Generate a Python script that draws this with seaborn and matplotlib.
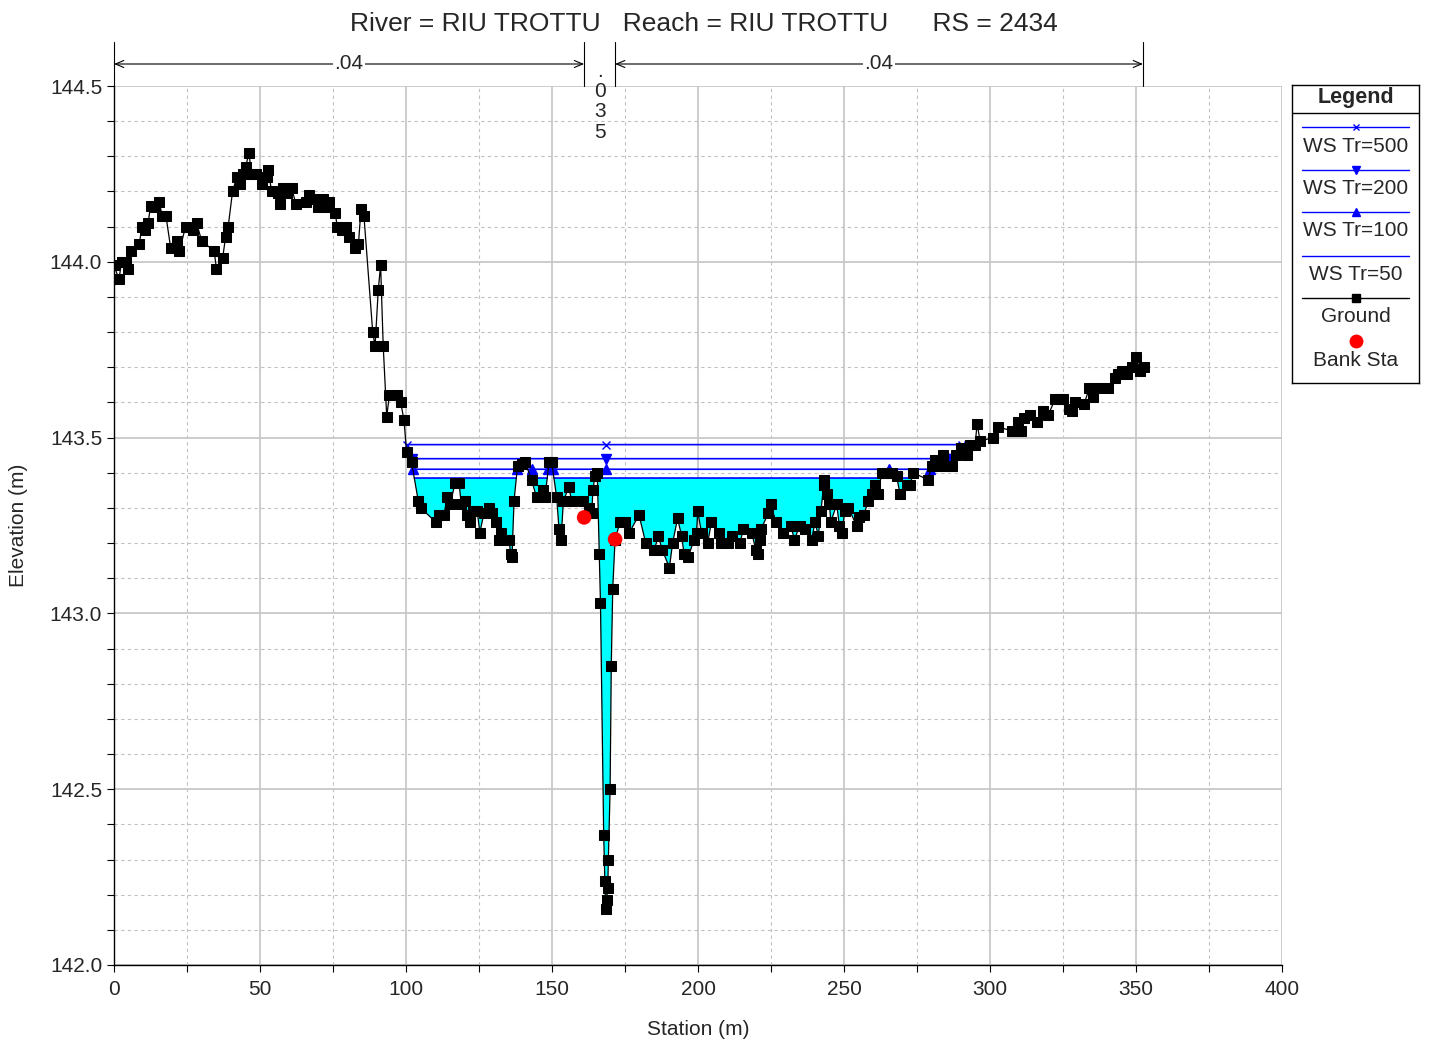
import numpy as np
import matplotlib
matplotlib.use("Agg")
import matplotlib.pyplot as plt
import matplotlib.transforms as mtransforms
from matplotlib.ticker import MultipleLocator, FormatStrFormatter
import seaborn as sns

# ground profile (station m, elevation m)
station = [
    0.0, 1.7, 2.6, 4.0, 4.9, 5.7, 8.7, 9.5, 10.6, 11.7, 12.5, 14.1, 15.5, 16.5, 17.8,
    19.4, 21.5, 22.4, 24.5, 27.2, 28.3, 30.0, 34.3, 35.1, 37.2, 38.2, 39.1, 40.6, 42.0,
    43.2, 44.1, 45.1, 46.2, 47.1, 48.8, 50.7, 52.3, 52.8, 54.0, 56.2, 56.8, 57.9, 59.1,
    60.8, 62.3, 65.8, 66.9, 68.8, 70.0, 71.5, 72.6, 73.7, 75.7, 76.5, 78.0, 79.3, 80.5,
    82.5, 83.7, 84.6, 85.6, 88.6, 89.4, 90.5, 91.3, 92.2, 93.4, 94.3, 97.0, 98.2, 99.3,
    100.2, 101.9, 104.2, 105.0, 110.2, 111.4, 113.0, 114.1, 115.1, 116.8, 118.2, 118.9,
    120.2, 121.0, 121.9, 122.8, 124.4, 125.3, 126.7, 128.5, 129.3, 130.8, 131.8, 132.7,
    135.3, 135.8, 136.3, 137.0, 138.2, 139.6, 140.8, 143.0, 144.7, 146.8, 147.6, 149.0,
    149.9, 151.6, 152.4, 153.1, 153.9, 155.8, 156.7, 160.5, 162.6, 163.6, 164.0, 164.7,
    165.5, 166.2, 166.6, 167.7, 168.1, 168.4, 168.7, 169.1, 169.3, 169.9, 170.3, 170.8,
    171.6, 173.3, 175.0, 176.5, 179.8, 182.1, 185.0, 186.4, 187.8, 190.2, 191.3, 193.0,
    194.4, 195.2, 196.7, 198.6, 199.5, 199.9, 201.2, 203.3, 204.6, 207.1, 208.0, 210.4,
    211.5, 214.4, 215.5, 218.4, 219.8, 220.6, 221.2, 221.6, 224.1, 224.9, 226.7, 229.2,
    231.8, 233.0, 234.9, 236.7, 238.9, 240.1, 241.2, 242.1, 243.0, 243.2, 244.1, 245.0,
    245.5, 247.5, 248.4, 249.2, 250.3, 251.5, 254.3, 255.2, 256.8, 258.3, 259.5, 260.6,
    261.7, 262.9, 265.2, 266.3, 268.0, 269.2, 271.5, 272.6, 273.7, 278.8, 280.0, 281.2,
    282.9, 284.0, 285.8, 287.0, 288.5, 290.2, 292.0, 293.2, 294.9, 295.6, 296.6, 301.1,
    302.6, 307.4, 309.7, 310.5, 311.7, 313.7, 316.0, 318.0, 320.0, 322.3, 324.0, 325.1,
    327.2, 328.0, 329.1, 332.2, 334.0, 335.4, 337.4, 340.3, 342.8, 343.9, 345.1, 346.8,
    348.5, 350.0, 351.4, 352.7,
]
elevation = [
    143.99, 143.95, 144.00, 144.00, 143.98, 144.03, 144.05, 144.10, 144.09, 144.11, 144.16,
    144.155, 144.17, 144.13, 144.13, 144.04, 144.06, 144.03, 144.10, 144.09, 144.11, 144.06,
    144.03, 143.98, 144.01, 144.07, 144.10, 144.20, 144.24, 144.22, 144.25, 144.27, 144.31,
    144.25, 144.25, 144.22, 144.24, 144.26, 144.20, 144.195, 144.165, 144.21, 144.195,
    144.21, 144.165, 144.17, 144.19, 144.18, 144.155, 144.18, 144.155, 144.17, 144.14,
    144.10, 144.09, 144.10, 144.07, 144.04, 144.05, 144.15, 144.13, 143.80, 143.76, 143.92,
    143.99, 143.76, 143.56, 143.62, 143.62, 143.60, 143.55, 143.46, 143.43, 143.32, 143.30,
    143.26, 143.28, 143.28, 143.33, 143.31, 143.37, 143.37, 143.31, 143.32, 143.28, 143.26,
    143.29, 143.29, 143.23, 143.285, 143.30, 143.285, 143.26, 143.21, 143.23, 143.21,
    143.17, 143.16, 143.32, 143.42, 143.425, 143.43, 143.38, 143.33, 143.35, 143.33, 143.43,
    143.43, 143.33, 143.24, 143.21, 143.32, 143.36, 143.32, 143.32, 143.30, 143.285, 143.35,
    143.39, 143.40, 143.17, 143.03, 142.37, 142.24, 142.16, 142.185, 142.22, 142.30, 142.50,
    142.85, 143.07, 143.21, 143.26, 143.26, 143.23, 143.28, 143.20, 143.18, 143.22, 143.18,
    143.13, 143.20, 143.27, 143.22, 143.17, 143.16, 143.21, 143.23, 143.29, 143.23, 143.20,
    143.26, 143.23, 143.20, 143.20, 143.22, 143.20, 143.24, 143.23, 143.18, 143.17, 143.21,
    143.24, 143.285, 143.31, 143.26, 143.23, 143.25, 143.21, 143.25, 143.24, 143.21, 143.26,
    143.22, 143.29, 143.365, 143.38, 143.34, 143.31, 143.26, 143.31, 143.25, 143.23, 143.29,
    143.30, 143.25, 143.275, 143.28, 143.32, 143.34, 143.365, 143.34, 143.40, 143.40,
    143.40, 143.39, 143.34, 143.365, 143.365, 143.40, 143.38, 143.42, 143.435, 143.42,
    143.45, 143.42, 143.42, 143.45, 143.47, 143.45, 143.48, 143.48, 143.54, 143.49, 143.50,
    143.53, 143.52, 143.545, 143.52, 143.555, 143.565, 143.545, 143.575, 143.565, 143.61,
    143.61, 143.61, 143.58, 143.575, 143.60, 143.595, 143.64, 143.615, 143.64, 143.64,
    143.67, 143.68, 143.69, 143.68, 143.70, 143.73, 143.69, 143.70,
]

bank_sta = [161.0, 171.6]
bank_elev = [143.273, 143.211]

ws_names = ["WS Tr=500", "WS Tr=200", "WS Tr=100", "WS Tr=50"]
ws_levels = [143.48, 143.44, 143.41, 143.385]
ws_symbols = ["x", "v", "^", None]
ws_mark_sta = [
    [100.2, 168.5, 290.5, 292.5],
    [102.0, 168.5, 284.5, 286.5],
    [102.3, 138.0, 143.0, 148.6, 150.3, 168.5, 265.4, 279.5],
    [],
]

n_values = [".04", ".035", ".04"]
n_breaks = [0.0, 161.0, 171.6, 352.4]

title = "River = RIU TROTTU   Reach = RIU TROTTU      RS = 2434"

sns.set_style("white")
plt.rcParams["font.family"] = ["Liberation Sans", "DejaVu Sans"]

W, H = 1430, 1047
fig = plt.figure(figsize=(W / 100, H / 100), dpi=100)
ax = fig.add_axes([114 / W, 1 - 965 / H, (1282 - 114) / W, (965 - 86) / H])

sta = np.array(station)
elev = np.array(elevation)

# water for the lowest profile
ws50 = ws_levels[3]
ax.fill_between(sta, elev, ws50, where=elev < ws50, interpolate=True,
                color="#00ffff", lw=0, zorder=2)

# water surface lines (only where ground is below)
xf = np.linspace(sta[0], sta[-1], 8000)
gf = np.interp(xf, sta, elev)
for lvl, sym, marks in zip(ws_levels, ws_symbols, ws_mark_sta):
    ax.plot(xf, np.where(gf < lvl, lvl, np.nan), color="blue", lw=1.2, zorder=3)
    if sym:
        ax.plot(marks, [lvl] * len(marks), ls="none", marker=sym, color="blue",
                ms=7 if sym != "x" else 6, mew=1, zorder=4)

# ground
sns.lineplot(x=station, y=elevation, ax=ax, color="black", lw=0.9, marker="s",
             markersize=6.5, markeredgecolor="black", estimator=None, sort=False,
             legend=False, zorder=5)
sns.scatterplot(x=bank_sta, y=bank_elev, ax=ax, color="red", s=110,
                edgecolor="none", zorder=6, legend=False)

ax.set_xlim(0, 400)
ax.set_ylim(142.0, 144.5)
ax.xaxis.set_major_locator(MultipleLocator(50))
ax.xaxis.set_minor_locator(MultipleLocator(25))
ax.yaxis.set_major_locator(MultipleLocator(0.5))
ax.yaxis.set_minor_locator(MultipleLocator(0.1))
ax.yaxis.set_major_formatter(FormatStrFormatter("%.1f"))
ax.set_axisbelow(True)
ax.grid(which="major", color="#c8c8c8", lw=1.3, ls="-")
ax.grid(which="minor", color="#c0c0c0", lw=0.8, ls=(0, (3, 3)))
for s in ["top", "right"]:
    ax.spines[s].set_visible(False)
for s in ["left", "bottom"]:
    ax.spines[s].set_color("black")
    ax.spines[s].set_linewidth(1)
ax.tick_params(which="both", direction="out", length=5, color="black", width=0.8,
               labelsize=15, left=True, bottom=True)
ax.tick_params(axis="x", pad=6)

ax.set_xlabel("Station (m)", fontsize=15)
ax.set_ylabel("Elevation (m)", fontsize=15)
ax.xaxis.set_label_coords(0.5, -(1020 - 965) / 879)
ax.yaxis.set_label_coords(-(114 - 28) / 1168, 0.5)

fig.text(704 / W, 1 - 24 / H, title, ha="center", va="center", fontsize=19)

# Manning's n bar
trans = mtransforms.blended_transform_factory(ax.transData, ax.transAxes)
top = 1 + 44 / 879
ya = 1 + 22 / 879
for b in n_breaks:
    ax.plot([b, b], [1.0, top], transform=trans, color="black", lw=0.8,
            clip_on=False)
for i, lab in enumerate(n_values):
    x0, x1 = n_breaks[i], n_breaks[i + 1]
    mid = (x0 + x1) / 2
    if lab == ".035":
        ax.text(mid, 1 + 24 / 879, "\n".join(lab), transform=trans, ha="center",
                va="top", fontsize=15, linespacing=1.08, clip_on=False)
    else:
        ax.annotate("", xy=(x0, ya), xytext=(x1, ya), xycoords=trans,
                    textcoords=trans,
                    arrowprops=dict(arrowstyle="<->,head_length=0.6,head_width=0.25",
                                    lw=0.8, color="black", shrinkA=0, shrinkB=0))
        ax.text(mid, ya, lab, transform=trans, ha="center", va="center",
                fontsize=15, bbox=dict(fc="white", ec="none", pad=1))

# legend box
lax = fig.add_axes([1292 / W, 1 - 383 / H, 127 / W, 298 / H])
lax.set_xlim(0, 127)
lax.set_ylim(298, 0)
lax.set_xticks([])
lax.set_yticks([])
for s in lax.spines.values():
    s.set_visible(True)
    s.set_color("black")
    s.set_linewidth(1)
lax.text(63.5, 13, "Legend", ha="center", va="center", fontsize=15.5,
         fontweight="bold")
lax.axhline(28, color="black", lw=1)
rows = [42, 85, 127, 171, 213]
for yy, name, sym in zip(rows, ws_names + ["Ground"], ws_symbols + ["s"]):
    col = "black" if name == "Ground" else "blue"
    lax.plot([10, 117], [yy, yy], color=col, lw=1)
    if sym:
        lax.plot([63.5], [yy], marker=sym, color=col, ms=6 if sym != "x" else 5,
                 mew=1)
    lax.text(63.5, yy + 19, name, ha="center", va="center", fontsize=15)
lax.plot([63.5], [256], marker="o", color="red", ms=10, mec="none")
lax.text(63.5, 275, "Bank Sta", ha="center", va="center", fontsize=15)

fig.savefig("out.png", dpi=100)
